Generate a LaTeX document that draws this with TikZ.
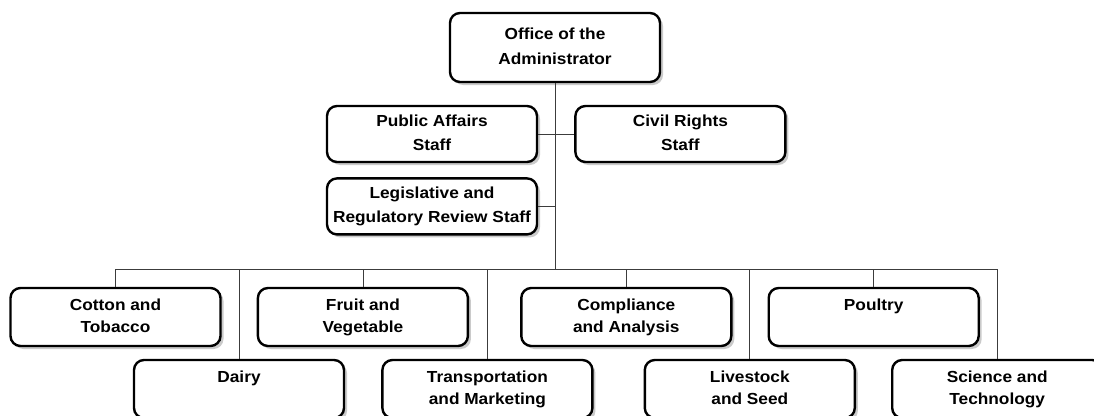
\documentclass[tikz,border=0pt]{standalone}
\usepackage{fontspec}
\setmainfont[FakeStretch=1.08]{Liberation Sans}
\usepackage{tikz}
\usetikzlibrary{positioning, shadows}
\definecolor{linegray}{RGB}{60,60,60}
\definecolor{shadowgray}{RGB}{150,150,150}

\begin{document}
\begin{tikzpicture}[
  x=1pt, y=-1pt,
  unit/.style={rectangle, draw, line width=2.4pt, rounded corners=10pt, fill=white, minimum width=210pt, minimum height=58pt, align=center, font=\bfseries\fontsize{16}{22}\selectfont, execute at begin node=\vphantom{A}, execute at end node=\vphantom{g}, drop shadow={shadow xshift=3pt, shadow yshift=-3pt, fill=shadowgray}},
  staff/.style={unit, minimum height=56pt, font=\bfseries\fontsize{16}{24}\selectfont},
  link/.style={draw=linegray, line width=0.8pt},
  node distance=35pt and 35pt
]
\useasboundingbox (0,0) rectangle (1094,415);
\clip (0,0) rectangle (1094,415);

\node[unit, minimum height=69pt, font=\bfseries\fontsize{16}{25}\selectfont] (admin) at (555,47.5) {Office of the\\Administrator};
\node[staff] (public) at (432,134) {Public Affairs\\Staff};
\node[staff, right=36pt of public] (civil) {Civil Rights\\Staff};
\node[staff, below=14pt of public] (legis) {Legislative and\\Regulatory Review Staff};

% divisions, upper row
\node[unit] (cotton) at (115.5,317) {Cotton and\\Tobacco};
\node[unit, right=of cotton] (fruit) {Fruit and\\Vegetable};
\node[unit, right=51pt of fruit] (compliance) {Compliance\\and Analysis};
\node[unit, right=of compliance] (poultry) {Poultry\\\phantom{Poultry}};

% divisions, lower row
\node[unit] (dairy) at (239,389) {Dairy\\\phantom{Dairy}};
\node[unit, right=36pt of dairy] (transport) {Transportation\\and Marketing};
\node[unit, right=50pt of transport] (livestock) {Livestock\\and Seed};
\node[unit, right=of livestock] (science) {Science and\\Technology};

\coordinate (bus) at (555,269);

\draw[link] (admin) -- (bus);
\draw[link] (public) -- (civil);
\draw[link] (legis.east) -- (legis.east -| admin.south);
\draw[link] (cotton.north |- bus) -- (science.north |- bus);
\foreach \n in {cotton, fruit, compliance, poultry, dairy, transport, livestock, science}
  \draw[link] (\n.north |- bus) -- (\n.north);
\end{tikzpicture}
\end{document}
